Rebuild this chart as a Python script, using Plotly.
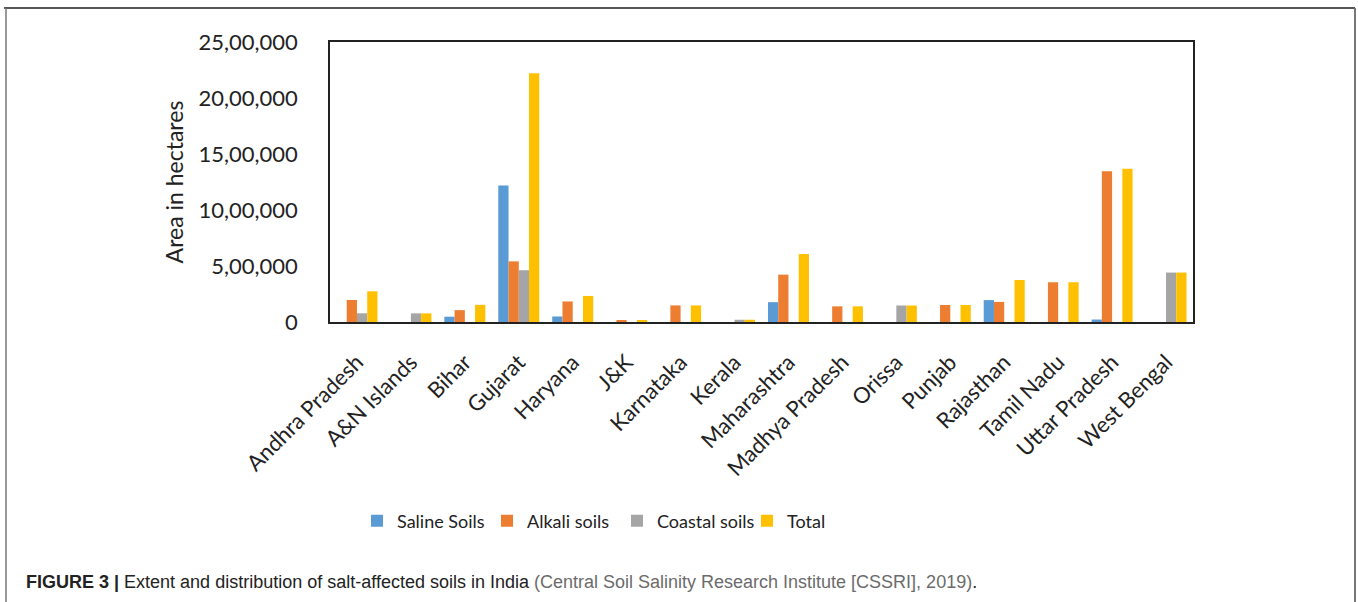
import plotly.graph_objects as go

states = ["Andhra Pradesh", "A&N Islands", "Bihar", "Gujarat", "Haryana", "J&K",
          "Karnataka", "Kerala", "Maharashtra", "Madhya Pradesh", "Orissa", "Punjab",
          "Rajasthan", "Tamil Nadu", "Uttar Pradesh", "West Bengal"]
saline = [0, 0, 47301, 1218255, 49157, 0, 0, 0, 177093, 0, 0, 0, 195571, 0, 21989, 0]
alkali = [196609, 0, 105852, 541430, 183399, 17500, 148136, 0, 422670, 139720, 0, 151717, 179371, 354784, 1346971, 0]
coastal = [77598, 77000, 0, 462315, 0, 0, 0, 20000, 0, 0, 147138, 0, 0, 0, 0, 441272]
total = [274207, 77000, 153153, 2222000, 232556, 17500, 148136, 20000, 606759, 139720, 147138, 151717, 374942, 354784, 1368960, 441272]

series_names = ["Saline Soils", "Alkali soils", "Coastal soils", "Total"]
series_colors = ["#5B9BD5", "#ED7D31", "#A5A5A5", "#FFC000"]
y_tickvals = [0, 500000, 1000000, 1500000, 2000000, 2500000]
y_ticktext = ["0", "5,00,000", "10,00,000", "15,00,000", "20,00,000", "25,00,000"]

W, H = 1358, 602
L, R, T, B = 330, 1193, 42, 322


def xp(px):
    return (px - L) / (R - L)


def yp(py):
    return (B - py) / (B - T)


fig = go.Figure()
for name, vals, col in zip(series_names, [saline, alkali, coastal, total], series_colors):
    fig.add_trace(go.Bar(x=states, y=vals, name=name, marker=dict(color=col, line=dict(width=0))))

font_main = "Lato, Calibri, Carlito, sans-serif"

fig.update_layout(
    width=W, height=H,
    margin=dict(l=L, r=W - R, t=T, b=H - B, autoexpand=False),
    paper_bgcolor="white", plot_bgcolor="white",
    barmode="group", bargap=0.24, bargroupgap=0,
    font=dict(family=font_main, color="#222222"),
    showlegend=True,
    legend=dict(orientation="h", x=xp(357), y=yp(521), xanchor="left", yanchor="middle",
                font=dict(family=font_main, size=18, color="#222222"),
                itemwidth=30, entrywidth=85, traceorder="normal"),
    xaxis=dict(showline=True, linecolor="#222222", linewidth=1.5, mirror=True,
               tickangle=-45, tickfont=dict(family=font_main, size=22, color="#222222"),
               ticks="", showgrid=False, ticklabelstandoff=17),
    yaxis=dict(showline=True, linecolor="#222222", linewidth=1.5, mirror=True,
               range=[0, 2500000], tickvals=y_tickvals, ticktext=y_ticktext,
               tickfont=dict(family=font_main, size=22, color="#222222"),
               ticks="", showgrid=False, zeroline=False, ticklabelstandoff=26,
               title=dict(text="Area in hectares", font=dict(family=font_main, size=23, color="#222222"),
                          standoff=8)),
)

# outer frame
fig.add_shape(type="line", xref="paper", yref="paper", x0=xp(4), x1=xp(1355), y0=yp(8), y1=yp(8),
              line=dict(color="#555555", width=2))
fig.add_shape(type="line", xref="paper", yref="paper", x0=xp(6), x1=xp(6), y0=yp(8), y1=yp(602),
              line=dict(color="#777777", width=1.5))
fig.add_shape(type="line", xref="paper", yref="paper", x0=xp(1355), x1=xp(1355), y0=yp(8), y1=yp(602),
              line=dict(color="#777777", width=2))

caption = ("<b>FIGURE 3 |</b> Extent and distribution of salt-affected soils in India "
           "<span style='color:#6b6b6b'>(Central Soil Salinity Research Institute [CSSRI], 2019)</span>.")
fig.add_annotation(text=caption, xref="paper", yref="paper", x=xp(24), y=yp(582),
                   xanchor="left", yanchor="middle", showarrow=False,
                   font=dict(family="Liberation Sans, Arial, sans-serif", size=18, color="#222222"))

fig.write_html("out.html")
